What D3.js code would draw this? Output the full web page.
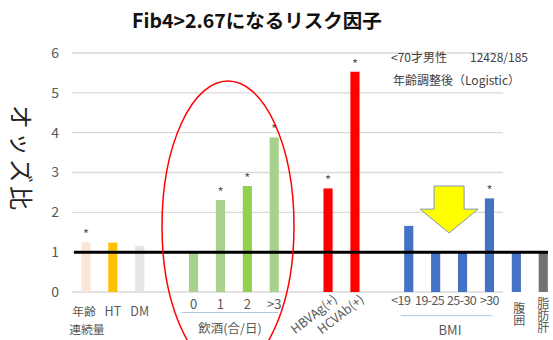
<!DOCTYPE html>
<html>
<head>
<meta charset="utf-8">
<script src="https://cdn.jsdelivr.net/npm/d3@7"></script>
<style>
  body { margin: 0; background: #fff; }
  text { font-family: "Noto Sans CJK JP", "Noto Sans", sans-serif; }
</style>
</head>
<body>
<div id="chart"></div>
<script>
// slots along the x axis ("_g" entries are gaps between groups)
var slots = ["年齢", "HT", "DM", "_g1", "0", "1", "2", ">3", "_g2", "HBVAg(+)", "HCVAb(+)", "_g3", "<19", "19-25", "25-30", ">30", "腹囲", "脂肪肝"]
var bars = ["年齢", "HT", "DM", "0", "1", "2", ">3", "HBVAg(+)", "HCVAb(+)", "<19", "19-25", "25-30", ">30", "腹囲", "脂肪肝"]
var odds = [1.25, 1.24, 1.16, 1.0, 2.31, 2.66, 3.88, 2.6, 5.53, 1.66, 1.0, 1.0, 2.35, 1.0, 1.0]
var signif = [true, false, false, false, true, true, true, true, true, false, false, false, true, false, false]
var colors = ["#FBE5D6", "#FFC000", "#E7E6E6", "#A9D18E", "#A9D18E", "#92D050", "#A9D18E", "#FF0000", "#FF0000", "#4472C4", "#4472C4", "#4472C4", "#4472C4", "#4472C4", "#767171"]
var yTicks = [0, 1, 2, 3, 4, 5, 6]
var drinkLabels = ["0", "1", "2", ">3"]
var bmiLabels = ["<19", "19-25", "25-30", ">30"]

var width = 553, height = 340

var svg = d3.select("#chart").append("svg")
    .attr("width", width)
    .attr("height", height)

var x = d3.scalePoint().domain(slots).range([72.5, 556.7]).padding(0.5)
var y = d3.scaleLinear().domain([0, 6]).range([292, 53])
var barW = x.step() * 0.34
var grey = "#595959"

// gridlines
svg.append("g").selectAll("line")
    .data(yTicks)
    .enter().append("line")
    .attr("x1", 72).attr("x2", 503)
    .attr("y1", d => y(d)).attr("y2", d => y(d))
    .attr("stroke", "#D9D9D9")
    .attr("stroke-width", 1.3)

// tick labels
svg.append("g").selectAll("text")
    .data(yTicks)
    .enter().append("text")
    .attr("x", 59).attr("y", d => y(d))
    .attr("dy", "0.35em")
    .attr("text-anchor", "end")
    .attr("fill", grey)
    .style("font-size", "14px")
    .text(d => d)

// title
svg.append("text")
    .attr("x", 257).attr("y", 28)
    .attr("text-anchor", "middle")
    .style("font-size", "19.5px")
    .style("font-weight", "bold")
    .attr("fill", "#111")
    .text("Fib4>2.67になるリスク因子")

// y axis title, turned clockwise
svg.append("text")
    .attr("transform", "translate(22,159) rotate(90)")
    .attr("text-anchor", "middle")
    .attr("dominant-baseline", "central")
    .style("font-size", "24px")
    .style("letter-spacing", "3px")
    .attr("fill", "#222")
    .text("オッズ比")

// notes
svg.append("text").attr("x", 391).attr("y", 62).attr("fill", "#404040").style("font-size", "12px").text("<70才男性")
svg.append("text").attr("x", 470).attr("y", 62).attr("fill", "#404040").style("font-size", "12px").text("12428/185")
svg.append("text").attr("x", 393).attr("y", 85).attr("fill", "#404040").style("font-size", "12px").text("年齢調整後（Logistic）")

// bars
svg.append("g").selectAll("rect")
    .data(bars)
    .enter().append("rect")
    .attr("x", d => x(d) - barW / 2)
    .attr("width", barW)
    .attr("y", (d, i) => y(odds[i]))
    .attr("height", (d, i) => y(0) - y(odds[i]))
    .attr("fill", (d, i) => colors[i])

// asterisks
svg.append("g").selectAll("text")
    .data(bars.filter((d, i) => signif[i]))
    .enter().append("text")
    .attr("x", d => x(d))
    .attr("y", d => y(odds[bars.indexOf(d)]) - 3)
    .attr("text-anchor", "middle")
    .attr("fill", grey)
    .style("font-size", "13px")
    .text("*")

// reference line at odds 1
svg.append("line")
    .attr("x1", 74).attr("x2", 548)
    .attr("y1", y(1)).attr("y2", y(1))
    .attr("stroke", "#000")
    .attr("stroke-width", 3)

// x labels
var lab = svg.append("g").attr("fill", grey).style("font-size", "12.5px")
lab.append("text").attr("x", x("年齢") - 2).attr("y", 316).attr("text-anchor", "middle").style("font-size", "11.8px").text("年齢")
lab.append("text").attr("x", x("年齢") + 1).attr("y", 333.5).attr("text-anchor", "middle").style("font-size", "11.8px").text("連続量")
lab.append("text").attr("x", x("HT")).attr("y", 316).attr("text-anchor", "middle").text("HT")
lab.append("text").attr("x", x("DM")).attr("y", 316).attr("text-anchor", "middle").text("DM")

lab.selectAll(".dk").data(drinkLabels).enter().append("text")
    .attr("x", d => x(d)).attr("y", 309)
    .attr("text-anchor", "middle")
    .style("font-size", "13px")
    .text(d => d)
svg.append("line")
    .attr("x1", x("0") - 12).attr("x2", x(">3") + 4)
    .attr("y1", 312.5).attr("y2", 312.5)
    .attr("stroke", "#B4C7E7").attr("stroke-width", 1)
lab.append("text").attr("x", 230).attr("y", 333).attr("text-anchor", "middle").text("飲酒(合/日)")

lab.selectAll(".hv").data(["HBVAg(+)", "HCVAb(+)"]).enter().append("text")
    .attr("transform", d => "translate(" + (x(d) + 10) + ",301) rotate(-38)")
    .attr("text-anchor", "end")
    .style("font-size", "12.5px")
    .text(d => d)

// BMI labels are wider than the bar step, so they spread a little to the left
var bmiShift = [-8, -6, -1, 0]
lab.selectAll(".bm").data(bmiLabels).enter().append("text")
    .attr("x", (d, i) => x(d) + bmiShift[i]).attr("y", 305)
    .attr("text-anchor", "middle")
    .style("font-size", "12.5px")
    .style("letter-spacing", "-0.6px")
    .text(d => d)
svg.append("line")
    .attr("x1", x("<19") - 8).attr("x2", x(">30") + 3)
    .attr("y1", 315.7).attr("y2", 315.7)
    .attr("stroke", "#B4C7E7").attr("stroke-width", 1)
lab.append("text").attr("x", 450).attr("y", 335).attr("text-anchor", "middle").style("font-size", "13px").text("BMI")

// vertical labels
lab.selectAll(".vt").data(["腹囲", "脂肪肝"]).enter().append("text")
    .attr("x", d => x(d) + (d === "腹囲" ? 3 : 0))
    .attr("y", d => d === "腹囲" ? 302 : 297)
    .style("writing-mode", "vertical-rl")
    .style("font-size", "12px")
    .text(d => d)

// red ellipse around drinking group
svg.append("ellipse")
    .attr("cx", 228).attr("cy", 226)
    .attr("rx", 66).attr("ry", 145)
    .attr("fill", "none")
    .attr("stroke", "#FF0000")
    .attr("stroke-width", 1.5)

// yellow arrow between 19-25 and 25-30
var ax = (x("19-25") + x("25-30")) / 2
var arrow = [[ax - 15, y(2.66)], [ax + 15, y(2.66)], [ax + 15, y(2.08)], [ax + 29, y(2.08)],
    [ax, y(1.48)], [ax - 29, y(2.08)], [ax - 15, y(2.08)]]
svg.append("polygon")
    .attr("points", arrow.map(p => p.join(",")).join(" "))
    .attr("fill", "#FFFF00")
    .attr("stroke", "#8497B0")
    .attr("stroke-width", 1)
</script>
</body>
</html>
